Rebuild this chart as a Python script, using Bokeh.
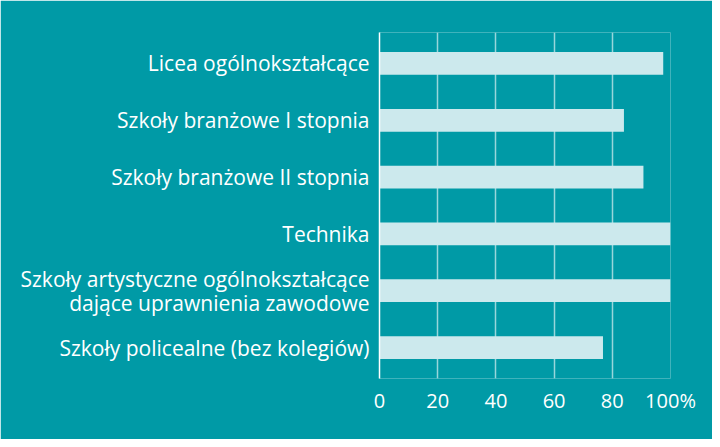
from bokeh.plotting import figure
from bokeh.models import FactorRange, Range1d, FixedTicker
from bokeh.embed import file_html
from bokeh.resources import INLINE

categories = [
    "Licea ogólnokształcące",
    "Szkoły branżowe I stopnia",
    "Szkoły branżowe II stopnia",
    "Technika",
    "Szkoły artystyczne ogólnokształcące\ndające uprawnienia zawodowe",
    "Szkoły policealne (bez kolegiów)",
]
values = [97.5, 84, 90.7, 100, 100, 76.8]
tick_values = [0, 20, 40, 60, 80, 100]
tick_labels = ["0", "20", "40", "60", "80", "100%"]

BG = "#009aa6"
BAR = "#cce9ed"
FONT = "Open Sans"

p = figure(
    width=712, height=439,
    y_range=FactorRange(factors=list(reversed(categories)), range_padding=0.015),
    x_range=Range1d(0, 100),
    output_backend="svg", toolbar_location=None,
    min_border_left=379, min_border_right=42, min_border_top=32, min_border_bottom=61,
)
p.background_fill_color = BG
p.border_fill_color = BG
p.outline_line_color = None

p.hbar(y=categories, right=values, left=0, height=0.4, color=BAR, line_color=None)

p.ygrid.grid_line_color = None
p.xgrid.grid_line_color = "white"
p.xgrid.grid_line_alpha = 0.6
p.xgrid.grid_line_width = 1.5
p.xaxis.ticker = FixedTicker(ticks=tick_values)
p.xaxis.major_label_overrides = {v: l for v, l in zip(tick_values, tick_labels)}

for ax in (p.xaxis, p.yaxis):
    ax.major_tick_line_color = None
    ax.minor_tick_line_color = None
    ax.major_label_text_color = "white"
    ax.major_label_text_font = FONT

p.xaxis.major_label_text_font_size = "20px"
p.yaxis.major_label_text_font_size = "21px"
p.xaxis.axis_line_color = None
p.xaxis.major_label_standoff = 2
p.yaxis.axis_line_color = "white"
p.yaxis.axis_line_width = 1.5
p.yaxis.major_label_standoff = 4
p.yaxis.major_label_text_line_height = 0.85

open("out.html", "w").write(file_html(p, INLINE))
